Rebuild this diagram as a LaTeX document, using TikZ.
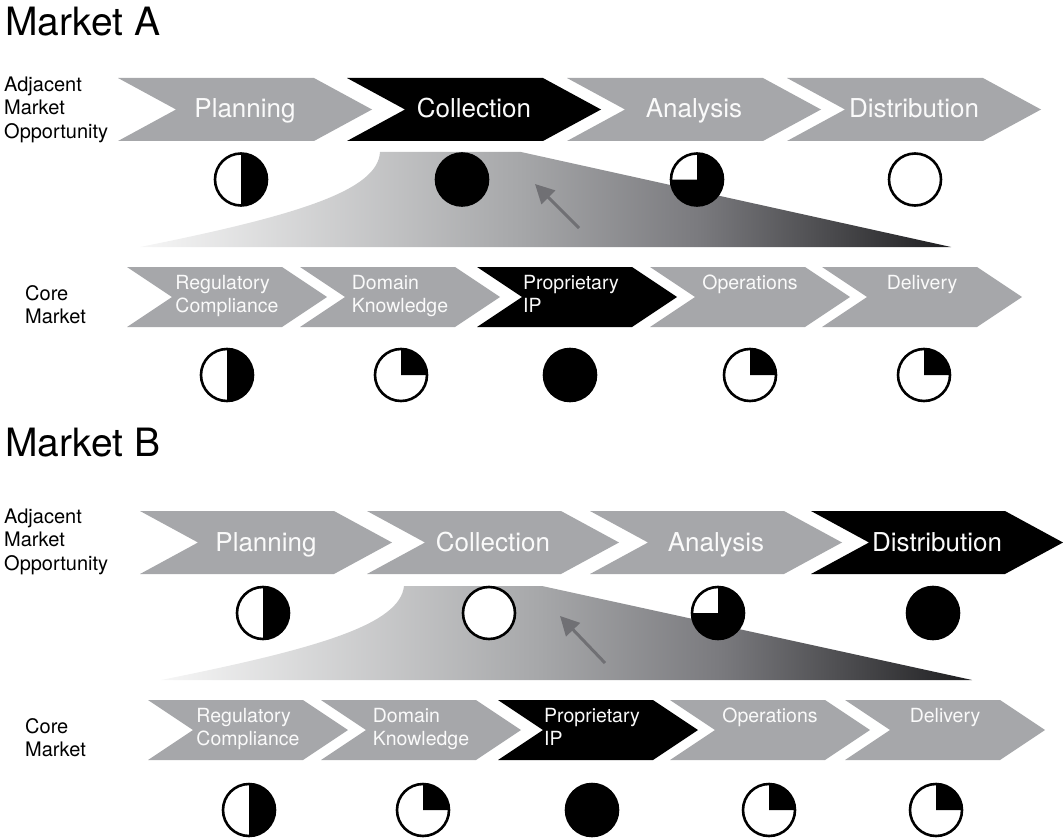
\documentclass[tikz,border=0pt]{standalone}
\usepackage{fontspec}
\setmainfont{TeX Gyre Heros}
\usetikzlibrary{arrows.meta}

\definecolor{chevgray}{RGB}{166,167,170}
\definecolor{labelwhite}{RGB}{250,250,250}
\definecolor{arrowgray}{RGB}{112,112,116}
\definecolor{wedgeA}{RGB}{246,246,246}
\definecolor{wedgeB}{RGB}{166,167,169}
\definecolor{wedgeC}{RGB}{122,122,126}
\definecolor{wedgeD}{RGB}{30,30,32}

% light-to-dark fade of the transition wedge
\pgfdeclarehorizontalshading{wedgeshade}{100bp}{%
  color(0bp)=(wedgeA); color(25bp)=(wedgeA); color(48.4bp)=(wedgeB);
  color(59.5bp)=(wedgeC); color(75bp)=(wedgeD); color(100bp)=(wedgeD)}

% chevron: #1 left, #2 top, #3 width, #4 height, #5 point depth, #6 fill
\newcommand\chevron[6]{%
  \fill[#6] (#1,#2) -- ++({#3-#5},0) -- ++(#5,{#4/2}) -- ++({-#5},{#4/2})
    -- ++({-(#3-#5)},0) -- ++(#5,{-#4/2}) -- cycle;}

% Harvey ball: #1 name, #2 x, #3 y, #4 filled quarters (clockwise from top)
\newcommand\hball[4]{%
  \node[ball] (#1) at (#2,#3) {};
  \ifcase#4\relax
  \or \fill (#1.center) -- ++(0,-26) arc[start angle=-90, delta angle=90, radius=26] -- cycle;
  \or \fill (#1.center) -- ++(0,-26) arc[start angle=-90, delta angle=180, radius=26] -- cycle;
  \or \fill (#1.center) -- ++(0,-26) arc[start angle=-90, delta angle=270, radius=26] -- cycle;
  \or \fill (#1.center) circle[radius=26];
  \fi}

\tikzset{
  title/.style={anchor=base west, inner sep=0pt, font=\fontsize{39}{44}\selectfont},
  rowlabel/.style={anchor=north west, inner sep=0pt, align=left,
    font=\fontsize{20}{23.5}\selectfont},
  toplabel/.style={anchor=base, inner sep=0pt, text=labelwhite,
    font=\fontsize{26}{30}\selectfont},
  corelabel/.style={anchor=north, inner sep=0pt, align=left, text=labelwhite,
    font=\fontsize{19.5}{23.5}\selectfont},
  ball/.style={circle, draw=black, line width=2.6pt, fill=white,
    minimum size=52pt, inner sep=0pt},
  pointer/.style={draw=arrowgray, line width=3pt,
    -{Triangle[length=19pt,width=19pt]}},
}

\begin{document}
\begin{tikzpicture}[x=1pt, y=-1pt]
\useasboundingbox (0,0) rectangle (1063,840);

%% ---------------- Market A ----------------
\node[title] (titleA) at (5,36) {Market A};
\node[rowlabel] (adjA) at (4,76.5) {Adjacent\\Market\\Opportunity};
\node[rowlabel] (coreA) at (25,285) {Core\\Market};

% value chain of the adjacent market
\chevron{118}{78}{254}{63}{58}{chevgray}
\chevron{347}{78}{254}{63}{58}{black}
\chevron{567}{78}{254}{63}{58}{chevgray}
\chevron{787}{78}{254}{63}{58}{chevgray}
\node[toplabel] (planA) at (245,118) {Planning};
\node[toplabel] (collA) at (474,118) {Collection};
\node[toplabel] (anaA)  at (694,118) {Analysis};
\node[toplabel] (distA) at (914,118) {Distribution};

% transition wedge and pointer
\shade[shading=wedgeshade] (380,152) -- (521,152) -- (951,247) -- (140,247)
  .. controls (300,215) and (378,190) .. (380,152) -- cycle;
\coordinate (arrowA-tail) at (579,228);
\coordinate (arrowA-head) at (535,184);
\draw[pointer] (arrowA-tail) -- (arrowA-head);

\hball{ballA-plan}{241}{179.5}{2}
\hball{ballA-coll}{462}{179.5}{4}
\hball{ballA-ana}{697}{179.5}{3}
\hball{ballA-dist}{915}{179.5}{0}

% value chain of the core market
\chevron{127}{267}{200}{60}{45}{chevgray}
\chevron{300}{267}{200}{60}{45}{chevgray}
\chevron{477}{267}{200}{60}{45}{black}
\chevron{650}{267}{200}{60}{45}{chevgray}
\chevron{822}{267}{200}{60}{45}{chevgray}
\node[corelabel] (regA)  at (227,275) {Regulatory\\Compliance};
\node[corelabel] (domA)  at (400,275) {Domain\\Knowledge};
\node[corelabel] (propA) at (571,275) {Proprietary\\IP};
\node[corelabel] (opsA)  at (750,275) {Operations};
\node[corelabel] (delA)  at (922,275) {Delivery};

\hball{ballA-reg}{227}{375}{2}
\hball{ballA-dom}{401}{375}{1}
\hball{ballA-prop}{570}{375}{4}
\hball{ballA-ops}{750}{375}{1}
\hball{ballA-del}{924}{375}{1}

%% ---------------- Market B ----------------
\node[title] (titleB) at (5,456) {Market B};
\node[rowlabel] (adjB) at (4,508.5) {Adjacent\\Market\\Opportunity};
\node[rowlabel] (coreB) at (25,718) {Core\\Market};

\chevron{140}{511}{252}{63}{58}{chevgray}
\chevron{367}{511}{252}{63}{58}{chevgray}
\chevron{590}{511}{252}{63}{58}{chevgray}
\chevron{811}{511}{252}{63}{58}{black}
\node[toplabel] (planB) at (266,551) {Planning};
\node[toplabel] (collB) at (493,551) {Collection};
\node[toplabel] (anaB)  at (716,551) {Analysis};
\node[toplabel] (distB) at (937,551) {Distribution};

\shade[shading=wedgeshade] (404,586) -- (542,586) -- (972,680) -- (161,680)
  .. controls (321,648) and (400,624) .. (404,586) -- cycle;
\coordinate (arrowB-tail) at (605,663);
\coordinate (arrowB-head) at (560,616);
\draw[pointer] (arrowB-tail) -- (arrowB-head);

\hball{ballB-plan}{263}{613}{2}
\hball{ballB-coll}{489}{613}{0}
\hball{ballB-ana}{718}{613}{3}
\hball{ballB-dist}{933}{613}{4}

\chevron{148}{700}{200}{60}{45}{chevgray}
\chevron{321}{700}{200}{60}{45}{chevgray}
\chevron{498}{700}{200}{60}{45}{black}
\chevron{670}{700}{200}{60}{45}{chevgray}
\chevron{845}{700}{200}{60}{45}{chevgray}
\node[corelabel] (regB)  at (248,708) {Regulatory\\Compliance};
\node[corelabel] (domB)  at (421,708) {Domain\\Knowledge};
\node[corelabel] (propB) at (592,708) {Proprietary\\IP};
\node[corelabel] (opsB)  at (770,708) {Operations};
\node[corelabel] (delB)  at (945,708) {Delivery};

\hball{ballB-reg}{249}{810}{2}
\hball{ballB-dom}{423}{810}{1}
\hball{ballB-prop}{592}{810}{4}
\hball{ballB-ops}{769}{810}{1}
\hball{ballB-del}{936}{810}{1}
\end{tikzpicture}
\end{document}
